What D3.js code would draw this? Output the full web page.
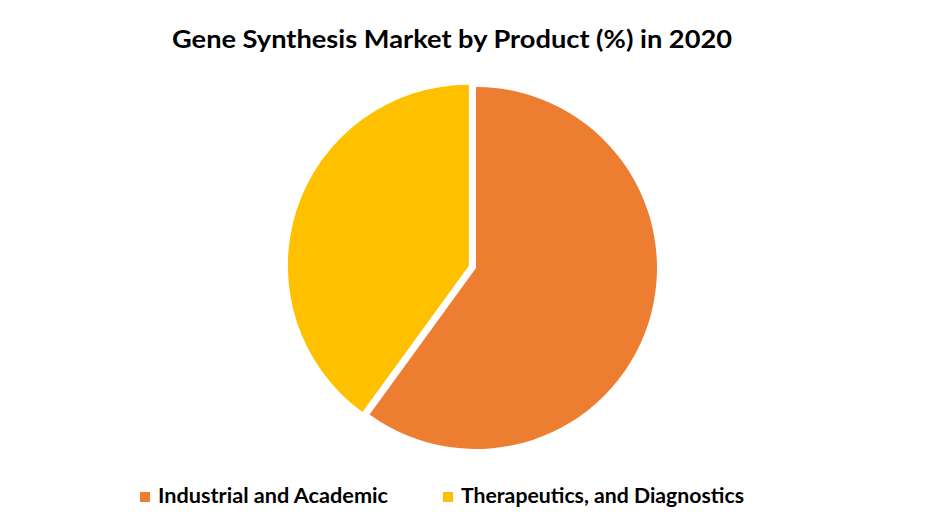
<!DOCTYPE html>
<html>
<head>
<meta charset="utf-8">
<script src="https://cdn.jsdelivr.net/npm/d3@7"></script>
<style>
  body { margin: 0; background: #fff; }
  text { font-family: Lato, "Open Sans", sans-serif; font-weight: bold; }
</style>
</head>
<body>
<div id="chart"></div>
<script>
// Chart data
var categories = ['Industrial and Academic', 'Therapeutics, and Diagnostics'];
var shares = [60, 40];
var colors = ['#ED7D31', '#FFC000'];
var exploded = [0, 7.5];
var title = 'Gene Synthesis Market by Product (%) in 2020';

var width = 941,
  height = 531,
  cx = 476,
  cy = 268,
  radius = 181;

var data = categories.map(function (c, i) {
  return { name: c, value: shares[i], color: colors[i], offset: exploded[i] };
});

var svg = d3
  .select('#chart')
  .append('svg')
  .attr('width', width)
  .attr('height', height);

// Title
svg
  .append('text')
  .attr('x', 452)
  .attr('y', 48)
  .attr('text-anchor', 'middle')
  .attr('font-size', 25)
  .attr('textLength', 560)
  .attr('lengthAdjust', 'spacingAndGlyphs')
  .attr('fill', '#000')
  .text(title);

// Pie
var pie = d3
  .pie()
  .sort(null)
  .value(function (d) {
    return d.value;
  });

var arc = d3.arc().innerRadius(0).outerRadius(radius);

svg
  .append('g')
  .attr('transform', 'translate(' + cx + ',' + cy + ')')
  .selectAll('path')
  .data(pie(data))
  .enter()
  .append('path')
  .attr('d', arc)
  .attr('fill', function (d) {
    return d.data.color;
  })
  .attr('transform', function (d) {
    var mid = (d.startAngle + d.endAngle) / 2;
    var dx = Math.sin(mid) * d.data.offset;
    var dy = -Math.cos(mid) * d.data.offset;
    return 'translate(' + dx + ',' + dy + ')';
  });

// Legend
var legendX = [140, 443];
var legendW = [230, 283];
var legend = svg
  .append('g')
  .selectAll('g')
  .data(data)
  .enter()
  .append('g')
  .attr('transform', function (d, i) {
    return 'translate(' + legendX[i] + ',492)';
  });

legend
  .append('rect')
  .attr('width', 10)
  .attr('height', 10)
  .attr('fill', function (d) {
    return d.color;
  });

legend
  .append('text')
  .attr('x', 18)
  .attr('y', 11)
  .attr('font-size', 20)
  .attr('textLength', function (d, i) {
    return legendW[i];
  })
  .attr('lengthAdjust', 'spacingAndGlyphs')
  .attr('fill', '#000')
  .text(function (d) {
    return d.name;
  });
</script>
</body>
</html>
